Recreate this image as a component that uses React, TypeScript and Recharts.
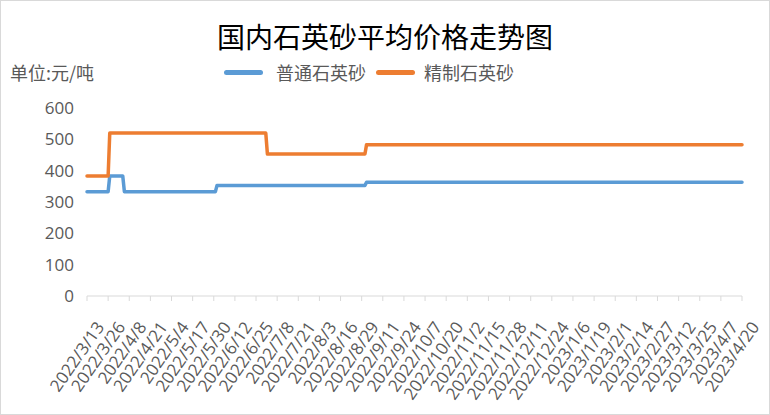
import { LineChart, Line, XAxis, YAxis } from "recharts";

// price change points (yuan / tonne)
const DATES = [
  "2022/3/13", "2022/3/26", "2022/3/27", "2022/4/4", "2022/4/5", "2022/5/31",
  "2022/6/1", "2022/7/1", "2022/7/2", "2022/8/31", "2022/9/1", "2023/4/20",
];
const ORDINARY = [333, 333, 383, 383, 333, 333, 353, 353, 353, 353, 363, 363];
const REFINED = [383, 383, 520, 520, 520, 520, 520, 520, 453, 453, 483, 483];

const TICK_DATES = [
  "2022/3/13", "2022/3/26", "2022/4/8", "2022/4/21", "2022/5/4", "2022/5/17",
  "2022/5/30", "2022/6/12", "2022/6/25", "2022/7/8", "2022/7/21", "2022/8/3",
  "2022/8/16", "2022/8/29", "2022/9/11", "2022/9/24", "2022/10/7", "2022/10/20",
  "2022/11/2", "2022/11/15", "2022/11/28", "2022/12/11", "2022/12/24", "2023/1/6",
  "2023/1/19", "2023/2/1", "2023/2/14", "2023/2/27", "2023/3/12", "2023/3/25",
  "2023/4/7", "2023/4/20",
];
const Y_TICKS = [0, 100, 200, 300, 400, 500, 600];

const SERIES = [
  { key: "ordinary", name: "普通石英砂", color: "#5B9BD5" },
  { key: "refined", name: "精制石英砂", color: "#ED7D31" },
];

const DAY_MS = 86400000;
const toUtc = (s: string) => {
  const [y, m, d] = s.split("/").map(Number);
  return Date.UTC(y, m - 1, d);
};
const START = toUtc(TICK_DATES[0]);
const dayOf = (s: string) => Math.round((toUtc(s) - START) / DAY_MS);

const data = DATES.map((d, i) => ({
  day: dayOf(d),
  ordinary: ORDINARY[i],
  refined: REFINED[i],
}));
const tickDays = TICK_DATES.map(dayOf);
const labelByDay = new Map(tickDays.map((d, i) => [d, TICK_DATES[i]]));

const NUM_FONT = "'Open Sans', 'Liberation Sans', sans-serif";
const CJK_FONT = "'Noto Sans CJK SC', 'Noto Sans', sans-serif";
const GREY = "#595959";

function DateTick(props: any) {
  const { x, y, payload } = props;
  const tx = x + 18;
  const ty = y + 26;
  return (
    <text
      x={tx}
      y={ty}
      transform={`rotate(-55 ${tx} ${ty})`}
      textAnchor="end"
      fontSize={17}
      fontFamily={NUM_FONT}
      fill={GREY}
    >
      {labelByDay.get(payload.value)}
    </text>
  );
}

const legendPos = [
  { line: 224, text: 276 },
  { line: 376, text: 424 },
];

export default function App() {
  return (
    <div style={{ position: "relative", width: 770, height: 415, background: "#fff" }}>
      <style>{`body{margin:0}`}</style>
      <LineChart
        width={770}
        height={415}
        data={data}
        margin={{ top: 108, right: 28, bottom: 0, left: 0 }}
      >
        <XAxis
          type="number"
          dataKey="day"
          domain={[0, tickDays[tickDays.length - 1]]}
          ticks={tickDays}
          interval={0}
          height={119}
          tickSize={5}
          tickMargin={0}
          stroke="#d9d9d9"
          tick={<DateTick />}
        />
        <YAxis
          domain={[0, 600]}
          ticks={Y_TICKS}
          width={87}
          axisLine={false}
          tickLine={false}
          tickMargin={7}
          tick={{ fill: GREY, fontSize: 17, fontFamily: NUM_FONT }}
        />
        {SERIES.map((s) => (
          <Line
            key={s.key}
            dataKey={s.key}
            name={s.name}
            type="linear"
            stroke={s.color}
            strokeWidth={3.5}
            strokeLinejoin="round"
            strokeLinecap="round"
            dot={false}
            activeDot={false}
            isAnimationActive={false}
          />
        ))}
      </LineChart>

      <div
        style={{
          position: "absolute",
          top: 22,
          left: 0,
          width: 770,
          textAlign: "center",
          fontFamily: CJK_FONT,
          fontSize: 28,
          lineHeight: "28px",
          color: "#000",
        }}
      >
        国内石英砂平均价格走势图
      </div>

      <div
        style={{
          position: "absolute",
          top: 62,
          left: 10,
          fontFamily: CJK_FONT,
          fontSize: 18,
          lineHeight: "20px",
          color: GREY,
        }}
      >
        单位:元/吨
      </div>

      {SERIES.map((s, i) => (
        <div key={s.key}>
          <div
            style={{
              position: "absolute",
              top: 70,
              left: legendPos[i].line,
              width: 39,
              height: 5,
              borderRadius: 3,
              background: s.color,
            }}
          />
          <div
            style={{
              position: "absolute",
              top: 62,
              left: legendPos[i].text,
              fontFamily: CJK_FONT,
              fontSize: 18,
              lineHeight: "20px",
              color: GREY,
              whiteSpace: "nowrap",
            }}
          >
            {s.name}
          </div>
        </div>
      ))}

      <div
        style={{
          position: "absolute",
          inset: 0,
          border: "1px solid #d9d9d9",
          pointerEvents: "none",
        }}
      />
    </div>
  );
}
